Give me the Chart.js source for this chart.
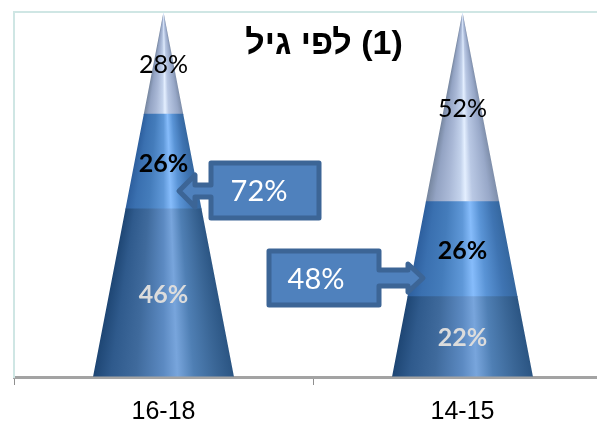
<!DOCTYPE html>
<html>
<head>
<meta charset="utf-8">
<style>
  html, body { margin: 0; padding: 0; background: #fff; overflow: hidden; width: 597px; height: 421px; }
  canvas { display: block; }
</style>
<script src="https://cdn.jsdelivr.net/npm/chart.js@4"></script>
</head>
<body>
<canvas id="chart" width="613" height="421"></canvas>
<script>
const categories = ['16-18', '14-15'];
const bottomValues = [46, 22];
const middleValues = [26, 26];
const topValues = [28, 52];
const calloutLabels = ['72%', '48%'];
const titleText = '(1) לפי גיל';

// shading runs along rays from the cone apex, left edge to right edge
const bottomShade = [[0, '#1e4674'], [0.12, '#2f5a8c'], [0.3, '#3f6a9c'], [0.5, '#5c8ac2'], [0.6, '#78a5dc'], [0.72, '#4f7fb4'], [0.88, '#3a6696'], [1, '#2b5583']];
const middleShade = [[0, '#2d5f9e'], [0.12, '#3a70b0'], [0.3, '#447cbb'], [0.5, '#5f98d8'], [0.6, '#86bcfb'], [0.72, '#5a94d6'], [0.88, '#3f74b2'], [1, '#35679f']];
const topShade = [[0, '#76869f'], [0.12, '#93a3c3'], [0.3, '#a9b8d6'], [0.47, '#c4d3ec'], [0.54, '#e4efff'], [0.64, '#b9c8e4'], [0.88, '#98a8c8'], [1, '#7e8eaa']];

const barShare = 0.4716;

function coneBox(chart, index) {
  const x = chart.scales.x.getPixelForValue(index);
  const base = chart.scales.y.getPixelForValue(0);
  const apex = chart.scales.y.getPixelForValue(100);
  const half = chart.scales.x.width / categories.length * barShare / 2;
  return { x, base, apex, half };
}

function coneFill(stops) {
  return (context) => {
    const chart = context.chart;
    if (!chart.chartArea) return stops[0][1];
    const c = coneBox(chart, context.dataIndex);
    const spread = Math.atan(c.half / (c.base - c.apex));
    const g = chart.ctx.createConicGradient(Math.PI / 2 - spread, c.x, c.apex);
    const full = 2 * spread / (2 * Math.PI);
    // conic sweep goes clockwise: right edge first, so stops are mirrored
    stops.slice().reverse().forEach(s => g.addColorStop((1 - s[0]) * full, s[1]));
    g.addColorStop(Math.min(full + 0.001, 1), stops[0][1]);
    return g;
  };
}

const conePlugin = {
  id: 'cone',
  beforeDatasetsDraw(chart) {
    const ctx = chart.ctx;
    ctx.save();
    ctx.beginPath();
    categories.forEach((_, i) => {
      const c = coneBox(chart, i);
      ctx.moveTo(c.x, c.apex);
      ctx.lineTo(c.x + c.half, c.base);
      ctx.lineTo(c.x - c.half, c.base);
      ctx.closePath();
    });
    ctx.clip();
  },
  afterDatasetsDraw(chart) {
    chart.ctx.restore();
  }
};

function drawCallout(ctx, pts, label, tx, ty) {
  ctx.beginPath();
  pts.forEach((p, i) => (i ? ctx.lineTo(p[0], p[1]) : ctx.moveTo(p[0], p[1])));
  ctx.closePath();
  ctx.fillStyle = '#4f81bd';
  ctx.fill();
  ctx.lineWidth = 5;
  ctx.lineJoin = 'round';
  ctx.strokeStyle = '#3c6596';
  ctx.stroke();
  ctx.fillStyle = '#fff';
  ctx.font = '29px Lato, sans-serif';
  ctx.textAlign = 'center';
  ctx.textBaseline = 'middle';
  ctx.fillText(label, tx, ty);
}

const labelPlugin = {
  id: 'labels',
  afterDraw(chart) {
    const ctx = chart.ctx;
    ctx.save();

    // callouts
    drawCallout(ctx, [[319, 163], [319, 218], [211, 218], [211, 197], [195, 197], [195, 207], [179, 191], [195, 175], [195, 185], [211, 185], [211, 163]], calloutLabels[0], 259, 192);
    drawCallout(ctx, [[269, 251], [379, 251], [379, 270], [408, 270], [408, 264], [423, 278], [408, 292], [408, 286], [379, 286], [379, 305], [269, 305]], calloutLabels[1], 316, 280);

    // value labels sit in the middle of each stacked segment
    ctx.textAlign = 'center';
    ctx.textBaseline = 'middle';
    chart.data.datasets.forEach((ds, d) => {
      chart.getDatasetMeta(d).data.forEach((bar, i) => {
        const p = bar.getCenterPoint();
        ctx.font = ds.labelFont;
        ctx.fillStyle = ds.labelColor;
        ctx.fillText(ds.data[i] + '%', p.x, p.y + 2);
      });
    });

    // title
    ctx.direction = 'rtl';
    ctx.font = 'bold 34px "Liberation Sans", Arial, sans-serif';
    ctx.fillStyle = '#000';
    ctx.textAlign = 'center';
    ctx.fillText(titleText, 324, 45);
    ctx.restore();
  }
};

new Chart(document.getElementById('chart'), {
  type: 'bar',
  data: {
    labels: categories,
    datasets: [
      { data: bottomValues, backgroundColor: coneFill(bottomShade), labelFont: 'bold 25px Lato, sans-serif', labelColor: '#dcdcdc' },
      { data: middleValues, backgroundColor: coneFill(middleShade), labelFont: 'bold 25px Lato, sans-serif', labelColor: '#000' },
      { data: topValues, backgroundColor: coneFill(topShade), labelFont: '25px Lato, sans-serif', labelColor: '#000' }
    ]
  },
  plugins: [conePlugin, labelPlugin],
  options: {
    responsive: false,
    animation: false,
    layout: { padding: { left: 14, top: 12, right: 1, bottom: 0 } },
    datasets: { bar: { barPercentage: barShare, categoryPercentage: 1, borderWidth: 0, inflateAmount: 0.5 } },
    plugins: { legend: { display: false }, tooltip: { enabled: false } },
    scales: {
      x: {
        stacked: true,
        afterFit: (scale) => { scale.height = 44; },
        border: { color: '#a3a3a3', width: 3 },
        grid: { drawOnChartArea: false, color: '#8f8f8f', tickLength: 8 },
        ticks: { color: '#000', padding: 12, maxRotation: 0, font: { family: '"Liberation Sans", Arial, sans-serif', size: 25 } }
      },
      y: {
        stacked: true,
        min: 0,
        max: 100,
        afterFit: (scale) => { scale.width = 0; },
        border: { color: '#cfe6e4', width: 2 },
        grid: { color: '#cfe6e4', lineWidth: 2, drawTicks: false },
        ticks: { display: false, stepSize: 100 }
      }
    }
  }
});
</script>
</body>
</html>
